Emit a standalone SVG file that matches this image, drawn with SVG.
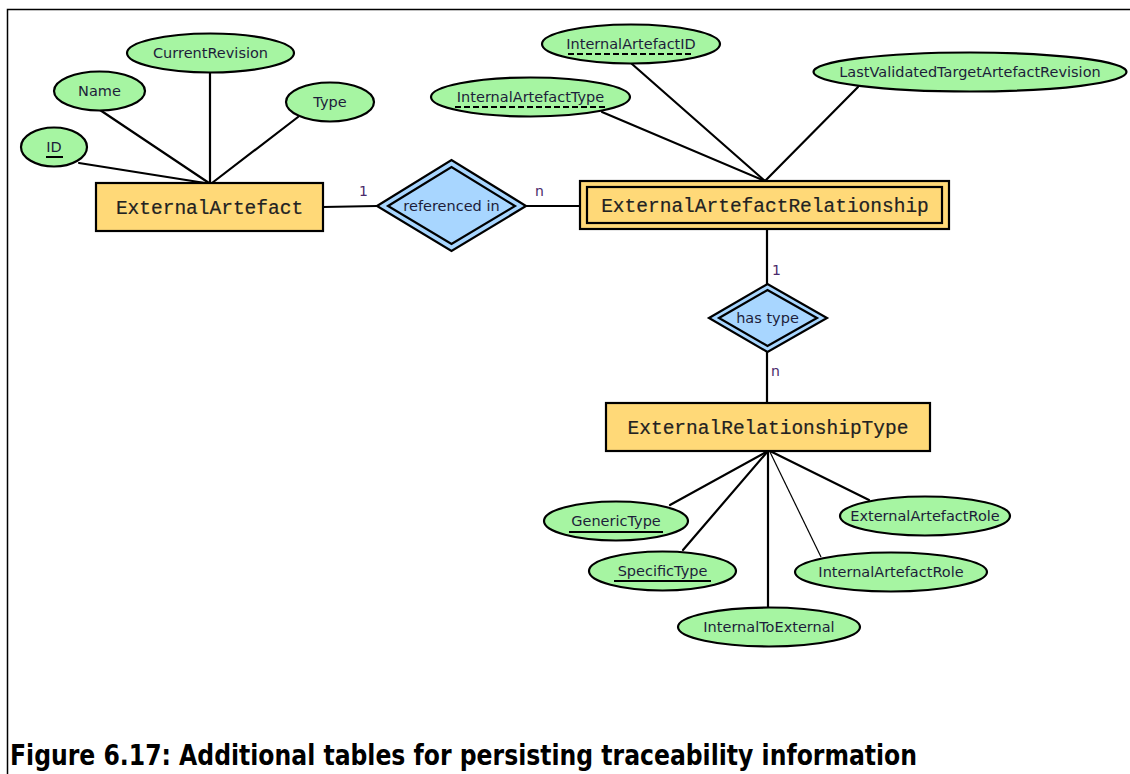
<svg xmlns="http://www.w3.org/2000/svg" width="1130" height="774" viewBox="0 0 1130 774">
  <style>
    .frame { stroke: #000; stroke-width: 1.5; fill: none; }
    .link { stroke: #000; stroke-width: 2.2; fill: none; stroke-linecap: round; }
    .thin { stroke: #000; stroke-width: 1.2; fill: none; }
    .entity { fill: #FFD978; stroke: #000; stroke-width: 2.2; }
    .entity-inner { fill: none; stroke: #000; stroke-width: 2.2; }
    .attr { fill: #A6F5A2; stroke: #000; stroke-width: 2.2; }
    .rel { fill: #A8D6FF; stroke: #000; stroke-width: 2.2; stroke-linejoin: miter; }
    .ename { font-family: "Liberation Mono", "Courier New", monospace; font-size: 19.5px; fill: #222; text-anchor: middle; stroke: #222; stroke-width: 0.2; }
    .aname { font-family: "DejaVu Sans", Verdana, sans-serif; font-size: 14.5px; fill: #1d1d3a; text-anchor: middle; }
    .rname { font-family: "DejaVu Sans", Verdana, sans-serif; font-size: 14.5px; fill: #1d1d3a; text-anchor: middle; }
    .card { font-family: "DejaVu Sans", Verdana, sans-serif; font-size: 14px; fill: #4a2a6a; }
    .key { stroke: #000; stroke-width: 2; }
    .partial { stroke: #000; stroke-width: 2; stroke-dasharray: 6 3; }
    .caption { font-family: "DejaVu Sans", Verdana, sans-serif; font-size: 29px; font-weight: bold; fill: #000; }
  </style>

  <!-- page frame -->
  <path class="frame" d="M7.5,774 V9.5 H1130"/>

  <!-- connectors -->
  <g id="connectors">
    <!-- ExternalArtefact attributes -->
    <line class="link" x1="79" y1="163" x2="205" y2="183"/>
    <line class="link" x1="100" y1="110" x2="209" y2="183"/>
    <line class="link" x1="210" y1="73" x2="210" y2="183"/>
    <line class="link" x1="298" y1="117" x2="212" y2="183"/>
    <!-- ExternalArtefactRelationship attributes -->
    <line class="link" x1="632" y1="64" x2="765" y2="181"/>
    <line class="link" x1="602" y1="112" x2="765" y2="181"/>
    <line class="link" x1="858" y1="87" x2="765" y2="181"/>
    <!-- relationships -->
    <line class="link" x1="323" y1="207" x2="377" y2="206"/>
    <line class="link" x1="526" y1="206" x2="580" y2="206"/>
    <line class="link" x1="767" y1="229" x2="767" y2="285"/>
    <line class="link" x1="767" y1="352" x2="767" y2="403"/>
    <!-- ExternalRelationshipType attributes -->
    <line class="link" x1="670" y1="505" x2="768" y2="451"/>
    <line class="link" x1="683" y1="550" x2="768" y2="451"/>
    <line class="link" x1="768" y1="607" x2="768" y2="451"/>
    <line class="thin" x1="821" y1="557" x2="770" y2="452"/>
    <line class="link" x1="869" y1="500" x2="770" y2="451"/>
    <!-- cardinalities -->
    <text class="card" x="359" y="196">1</text>
    <text class="card" x="535" y="196">n</text>
    <text class="card" x="772" y="275">1</text>
    <text class="card" x="771" y="376">n</text>
  </g>

  <!-- ExternalArtefact -->
  <g id="externalArtefact">
    <rect class="entity" x="96" y="183" width="227" height="48"/>
    <text class="ename" x="209.5" y="214">ExternalArtefact</text>
  </g>
  <g id="attr-id">
    <ellipse class="attr" cx="54" cy="147" rx="33" ry="19.5"/>
    <text class="aname" x="54" y="152">ID</text>
    <line class="key" x1="46" y1="157" x2="63" y2="157"/>
  </g>
  <g id="attr-name">
    <ellipse class="attr" cx="99.5" cy="91" rx="45.5" ry="19.5"/>
    <text class="aname" x="99.5" y="96">Name</text>
  </g>
  <g id="attr-currentRevision">
    <ellipse class="attr" cx="210.5" cy="53" rx="83.5" ry="19.5"/>
    <text class="aname" x="210.5" y="58">CurrentRevision</text>
  </g>
  <g id="attr-type">
    <ellipse class="attr" cx="330" cy="102" rx="44" ry="19.5"/>
    <text class="aname" x="330" y="107">Type</text>
  </g>

  <!-- referenced in -->
  <g id="referencedIn">
    <polygon class="rel" points="377,206 451.5,160 526,206 451.5,251"/>
    <polygon class="rel" points="388,206 451.5,167 515,206 451.5,244"/>
    <text class="rname" x="451.5" y="211">referenced in</text>
  </g>

  <!-- ExternalArtefactRelationship (weak entity) -->
  <g id="externalArtefactRelationship">
    <rect class="entity" x="580" y="181" width="369" height="48"/>
    <rect class="entity-inner" x="587" y="187" width="355" height="36"/>
    <text class="ename" x="765" y="212">ExternalArtefactRelationship</text>
  </g>
  <g id="attr-internalArtefactID">
    <ellipse class="attr" cx="631" cy="44" rx="89" ry="19.5"/>
    <text class="aname" x="631" y="49">InternalArtefactID</text>
    <line class="partial" x1="568" y1="54" x2="694" y2="54"/>
  </g>
  <g id="attr-internalArtefactType">
    <ellipse class="attr" cx="530.5" cy="97" rx="99.5" ry="19.5"/>
    <text class="aname" x="530.5" y="102">InternalArtefactType</text>
    <line class="partial" x1="455" y1="107" x2="606" y2="107"/>
  </g>
  <g id="attr-lastValidatedTargetArtefactRevision">
    <ellipse class="attr" cx="970" cy="72" rx="156.5" ry="19.5"/>
    <text class="aname" x="970" y="77">LastValidatedTargetArtefactRevision</text>
  </g>

  <!-- has type -->
  <g id="hasType">
    <polygon class="rel" points="709,318 767.5,284 827,318 767.5,352"/>
    <polygon class="rel" points="719,318 767.5,290 817,318 767.5,346"/>
    <text class="rname" x="767.5" y="323">has type</text>
  </g>

  <!-- ExternalRelationshipType -->
  <g id="externalRelationshipType">
    <rect class="entity" x="606" y="403" width="324" height="48"/>
    <text class="ename" x="768" y="434">ExternalRelationshipType</text>
  </g>
  <g id="attr-genericType">
    <ellipse class="attr" cx="616" cy="521" rx="72" ry="19.5"/>
    <text class="aname" x="616" y="526">GenericType</text>
    <line class="key" x1="569" y1="532" x2="663" y2="532"/>
  </g>
  <g id="attr-specificType">
    <ellipse class="attr" cx="662.5" cy="571" rx="73.5" ry="19.5"/>
    <text class="aname" x="662.5" y="576">SpecificType</text>
    <line class="key" x1="614" y1="581" x2="711" y2="581"/>
  </g>
  <g id="attr-internalToExternal">
    <ellipse class="attr" cx="769" cy="627" rx="91" ry="19.5"/>
    <text class="aname" x="769" y="632">InternalToExternal</text>
  </g>
  <g id="attr-internalArtefactRole">
    <ellipse class="attr" cx="891" cy="572" rx="96" ry="19.5"/>
    <text class="aname" x="891" y="577">InternalArtefactRole</text>
  </g>
  <g id="attr-externalArtefactRole">
    <ellipse class="attr" cx="925" cy="516" rx="85" ry="19.5"/>
    <text class="aname" x="925" y="521">ExternalArtefactRole</text>
  </g>

  <!-- caption -->
  <text class="caption" x="10" y="765" textLength="907" lengthAdjust="spacingAndGlyphs">Figure 6.17: Additional tables for persisting traceability information</text>
</svg>
